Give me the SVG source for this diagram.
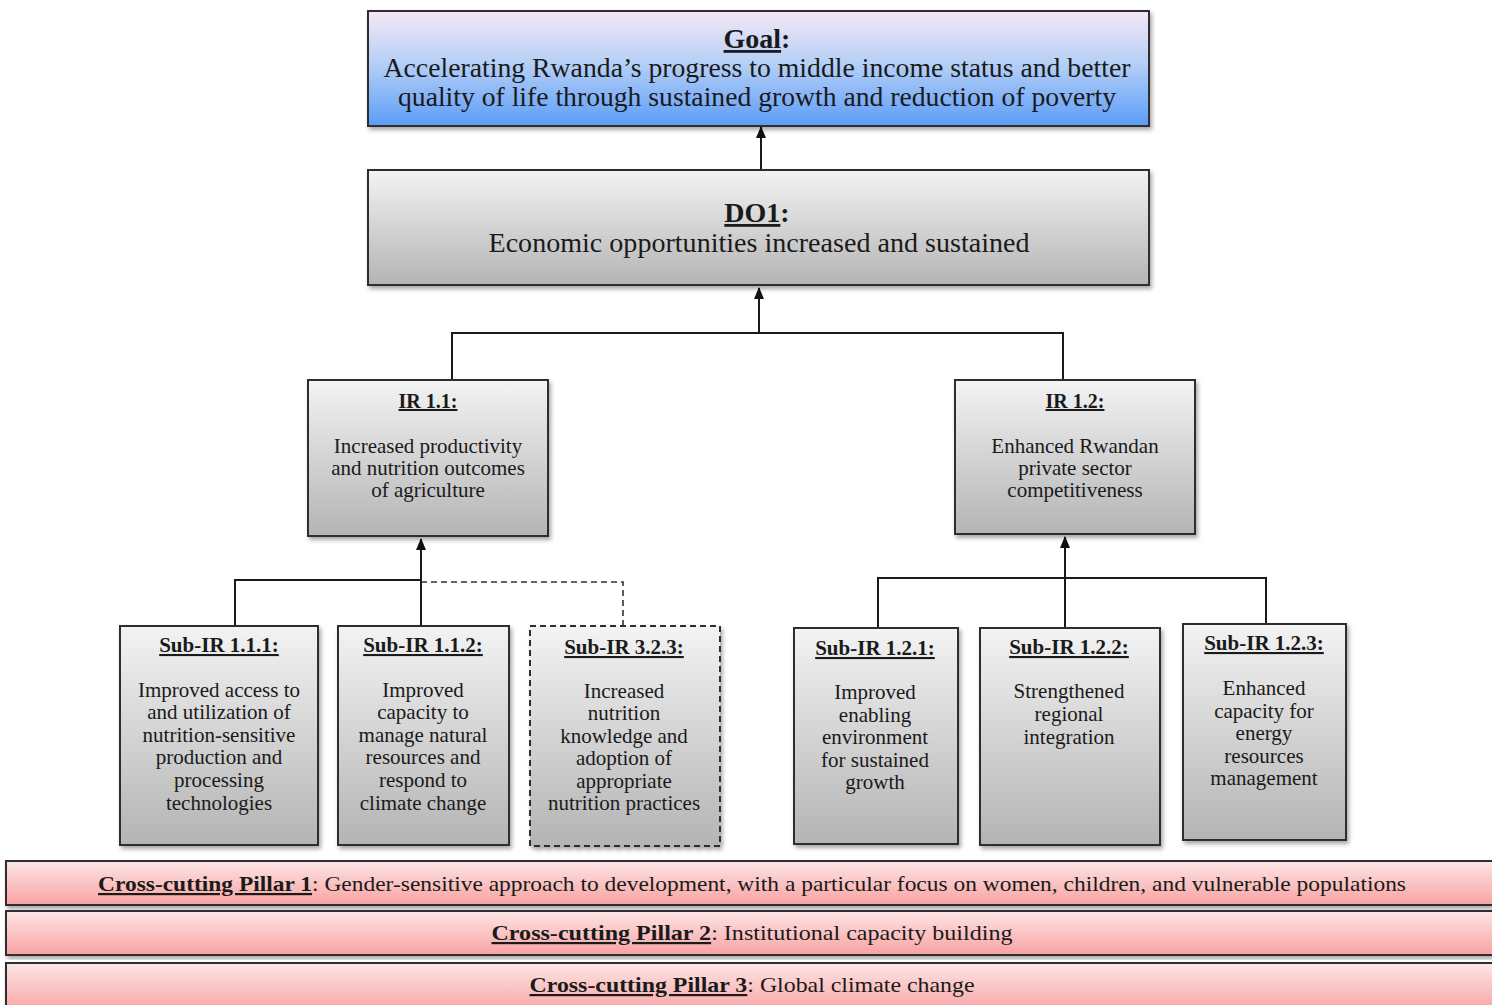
<svg xmlns="http://www.w3.org/2000/svg" width="1492" height="1005" viewBox="0 0 1492 1005">
  <defs>
    <linearGradient id="gBlue" x1="0" y1="0" x2="0" y2="1">
      <stop offset="0" stop-color="#f6e8f6"/>
      <stop offset="0.45" stop-color="#b6d0f6"/>
      <stop offset="1" stop-color="#5c9cf8"/>
    </linearGradient>
    <linearGradient id="gGray" x1="0" y1="0" x2="0" y2="1">
      <stop offset="0" stop-color="#f3f3f3"/>
      <stop offset="1" stop-color="#b4b4b4"/>
    </linearGradient>
    <linearGradient id="gPink" x1="0" y1="0" x2="0" y2="1">
      <stop offset="0" stop-color="#fde6e6"/>
      <stop offset="1" stop-color="#f8a2a2"/>
    </linearGradient>
    <filter id="shadow" x="-5%" y="-5%" width="112%" height="115%">
      <feDropShadow dx="2" dy="3" stdDeviation="2" flood-color="#000" flood-opacity="0.35"/>
    </filter>
    <!-- solid arrowhead pointing along the line direction -->
    <marker id="arrow" viewBox="0 0 12 10" refX="11" refY="5" markerWidth="12" markerHeight="10" markerUnits="userSpaceOnUse" orient="auto">
      <path d="M0,0 L12,5 L0,10 Z" fill="#111"/>
    </marker>
    <style>
      .box { stroke: #2e2e2e; stroke-width: 2; filter: url(#shadow); }
      .blue { fill: url(#gBlue); }
      .gray { fill: url(#gGray); }
      .pink { fill: url(#gPink); }
      .dashed { stroke-dasharray: 6 4; }
      text { font-family: "Liberation Serif", "DejaVu Serif", serif; fill: #1a1a1a; text-anchor: middle; }
      .big { font-size: 28px; }
      .mid { font-size: 21px; }
      .ttl { font-size: 20px; }
      .small { font-size: 21px; }
      .pillar { font-size: 22px; }
      .hd { font-weight: bold; text-decoration: underline; }
      .conn { fill: none; stroke: #1a1a1a; stroke-width: 2; }
      .conn-dash { fill: none; stroke: #333; stroke-width: 1.6; stroke-dasharray: 6 4; }
    </style>
  </defs>

  <rect width="1492" height="1005" fill="#ffffff"/>

  <!-- connectors -->
  <g id="connectors">
    <line class="conn" x1="761" y1="170" x2="761" y2="127" marker-end="url(#arrow)"/>
    <path class="conn" d="M452,380 V333 H1063 V380"/>
    <line class="conn" x1="759" y1="333" x2="759" y2="288" marker-end="url(#arrow)"/>
    <path class="conn" d="M235,626 V580 H421"/>
    <line class="conn" x1="421" y1="626" x2="421" y2="539" marker-end="url(#arrow)"/>
    <path class="conn-dash" d="M421,582 H623 V626"/>
    <path class="conn" d="M878,628 V578 H1266 V624"/>
    <line class="conn" x1="1065" y1="628" x2="1065" y2="537" marker-end="url(#arrow)"/>
  </g>

  <!-- goal -->
  <g id="goal">
    <rect class="box blue" x="368" y="11" width="781" height="115"/>
    <text class="big" x="757" y="48"><tspan class="hd">Goal</tspan><tspan font-weight="bold">:</tspan></text>
    <text class="big" x="757" y="77" textLength="747" lengthAdjust="spacingAndGlyphs">Accelerating Rwanda’s progress to middle income status and better</text>
    <text class="big" x="757" y="106" textLength="718" lengthAdjust="spacingAndGlyphs">quality of life through sustained growth and reduction of poverty</text>
  </g>

  <!-- development objective -->
  <g id="do1">
    <rect class="box gray" x="368" y="170" width="781" height="115"/>
    <text class="big" x="757" y="222"><tspan class="hd">DO1</tspan><tspan font-weight="bold">:</tspan></text>
    <text class="big" x="759" y="252" textLength="541" lengthAdjust="spacingAndGlyphs">Economic opportunities increased and sustained</text>
  </g>

  <!-- intermediate results -->
  <g id="ir11">
    <rect class="box gray" x="308" y="380" width="240" height="156"/>
    <text class="ttl" x="428" y="408"><tspan class="hd">IR 1.1:</tspan></text>
    <text class="mid" x="428" y="453">Increased productivity</text>
    <text class="mid" x="428" y="475">and nutrition outcomes</text>
    <text class="mid" x="428" y="497">of agriculture</text>
  </g>
  <g id="ir12">
    <rect class="box gray" x="955" y="380" width="240" height="154"/>
    <text class="ttl" x="1075" y="408"><tspan class="hd">IR 1.2:</tspan></text>
    <text class="mid" x="1075" y="453">Enhanced Rwandan</text>
    <text class="mid" x="1075" y="475">private sector</text>
    <text class="mid" x="1075" y="497">competitiveness</text>
  </g>

  <!-- sub-intermediate results -->
  <g id="sub111">
    <rect class="box gray" x="120" y="626" width="198" height="219"/>
    <text class="small" x="219" y="652"><tspan class="hd">Sub-IR 1.1.1:</tspan></text>
    <text class="small" x="219" y="697">Improved access to</text>
    <text class="small" x="219" y="719">and utilization of</text>
    <text class="small" x="219" y="742">nutrition-sensitive</text>
    <text class="small" x="219" y="764">production and</text>
    <text class="small" x="219" y="787">processing</text>
    <text class="small" x="219" y="810">technologies</text>
  </g>
  <g id="sub112">
    <rect class="box gray" x="338" y="626" width="171" height="219"/>
    <text class="small" x="423" y="652"><tspan class="hd">Sub-IR 1.1.2:</tspan></text>
    <text class="small" x="423" y="697">Improved</text>
    <text class="small" x="423" y="719">capacity to</text>
    <text class="small" x="423" y="742">manage natural</text>
    <text class="small" x="423" y="764">resources and</text>
    <text class="small" x="423" y="787">respond to</text>
    <text class="small" x="423" y="810">climate change</text>
  </g>
  <g id="sub323">
    <rect class="box gray dashed" x="530" y="626" width="190" height="220"/>
    <text class="small" x="624" y="654"><tspan class="hd">Sub-IR 3.2.3:</tspan></text>
    <text class="small" x="624" y="698">Increased</text>
    <text class="small" x="624" y="720">nutrition</text>
    <text class="small" x="624" y="743">knowledge and</text>
    <text class="small" x="624" y="765">adoption of</text>
    <text class="small" x="624" y="788">appropriate</text>
    <text class="small" x="624" y="810">nutrition practices</text>
  </g>
  <g id="sub121">
    <rect class="box gray" x="794" y="628" width="164" height="216"/>
    <text class="small" x="875" y="655"><tspan class="hd">Sub-IR 1.2.1:</tspan></text>
    <text class="small" x="875" y="699">Improved</text>
    <text class="small" x="875" y="722">enabling</text>
    <text class="small" x="875" y="744">environment</text>
    <text class="small" x="875" y="767">for sustained</text>
    <text class="small" x="875" y="789">growth</text>
  </g>
  <g id="sub122">
    <rect class="box gray" x="980" y="628" width="180" height="217"/>
    <text class="small" x="1069" y="654"><tspan class="hd">Sub-IR 1.2.2:</tspan></text>
    <text class="small" x="1069" y="698">Strengthened</text>
    <text class="small" x="1069" y="721">regional</text>
    <text class="small" x="1069" y="744">integration</text>
  </g>
  <g id="sub123">
    <rect class="box gray" x="1183" y="624" width="163" height="216"/>
    <text class="small" x="1264" y="650"><tspan class="hd">Sub-IR 1.2.3:</tspan></text>
    <text class="small" x="1264" y="695">Enhanced</text>
    <text class="small" x="1264" y="718">capacity for</text>
    <text class="small" x="1264" y="740">energy</text>
    <text class="small" x="1264" y="763">resources</text>
    <text class="small" x="1264" y="785">management</text>
  </g>

  <!-- cross-cutting pillars -->
  <g id="pillar1">
    <rect class="box pink" x="6" y="861" width="1492" height="44"/>
    <text class="pillar" x="752" y="891" textLength="1308" lengthAdjust="spacingAndGlyphs"><tspan class="hd">Cross-cutting Pillar 1</tspan>: Gender-sensitive approach to development, with a particular focus on women, children, and vulnerable populations</text>
  </g>
  <g id="pillar2">
    <rect class="box pink" x="6" y="911" width="1492" height="44"/>
    <text class="pillar" x="752" y="940" textLength="521" lengthAdjust="spacingAndGlyphs"><tspan class="hd">Cross-cutting Pillar 2</tspan>: Institutional capacity building</text>
  </g>
  <g id="pillar3">
    <rect class="box pink" x="6" y="963" width="1492" height="50"/>
    <text class="pillar" x="752" y="992" textLength="445" lengthAdjust="spacingAndGlyphs"><tspan class="hd">Cross-cutting Pillar 3</tspan>: Global climate change</text>
  </g>
</svg>
